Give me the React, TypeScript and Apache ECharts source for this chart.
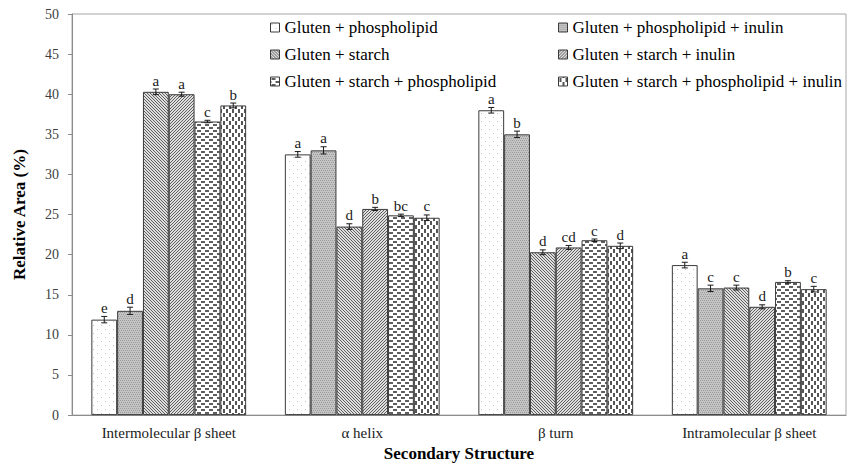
import React, { useEffect, useRef } from "react";
import * as echarts from "echarts";

const categories = [
  "Intermolecular β sheet",
  "α helix",
  "β turn",
  "Intramolecular β sheet",
];

const seriesNames = [
  "Gluten + phospholipid",
  "Gluten + phospholipid + inulin",
  "Gluten + starch",
  "Gluten + starch + inulin",
  "Gluten + starch + phospholipid",
  "Gluten + starch + phospholipid + inulin",
];

// Relative area (%) per series, one value per category
const glutenPhospholipid = [11.9, 32.5, 38.0, 18.7];
const glutenPhospholipidInulin = [13.0, 33.0, 35.0, 15.8];
const glutenStarch = [40.3, 23.5, 20.3, 15.9];
const glutenStarchInulin = [40.0, 25.7, 20.9, 13.5];
const glutenStarchPhospholipid = [36.6, 24.9, 21.8, 16.6];
const glutenStarchPhospholipidInulin = [38.6, 24.6, 21.1, 15.7];

// Standard deviations
const sdGlutenPhospholipid = [0.4, 0.35, 0.35, 0.35];
const sdGlutenPhospholipidInulin = [0.45, 0.45, 0.4, 0.4];
const sdGlutenStarch = [0.35, 0.35, 0.3, 0.3];
const sdGlutenStarchInulin = [0.25, 0.2, 0.25, 0.25];
const sdGlutenStarchPhospholipid = [0.15, 0.15, 0.15, 0.15];
const sdGlutenStarchPhospholipidInulin = [0.3, 0.35, 0.35, 0.35];

// Significance letters
const lettersGlutenPhospholipid = ["e", "a", "a", "a"];
const lettersGlutenPhospholipidInulin = ["d", "a", "b", "c"];
const lettersGlutenStarch = ["a", "d", "d", "c"];
const lettersGlutenStarchInulin = ["a", "b", "cd", "d"];
const lettersGlutenStarchPhospholipid = ["c", "bc", "c", "b"];
const lettersGlutenStarchPhospholipidInulin = ["b", "c", "d", "c"];

const values = [
  glutenPhospholipid,
  glutenPhospholipidInulin,
  glutenStarch,
  glutenStarchInulin,
  glutenStarchPhospholipid,
  glutenStarchPhospholipidInulin,
];
const errors = [
  sdGlutenPhospholipid,
  sdGlutenPhospholipidInulin,
  sdGlutenStarch,
  sdGlutenStarchInulin,
  sdGlutenStarchPhospholipid,
  sdGlutenStarchPhospholipidInulin,
];
const letters = [
  lettersGlutenPhospholipid,
  lettersGlutenPhospholipidInulin,
  lettersGlutenStarch,
  lettersGlutenStarchInulin,
  lettersGlutenStarchPhospholipid,
  lettersGlutenStarchPhospholipidInulin,
];

const FONT = "Liberation Serif";

function tile(w: number, h: number, bg: string, draw: (c: CanvasRenderingContext2D) => void) {
  const cv = document.createElement("canvas");
  cv.width = w;
  cv.height = h;
  const ctx = cv.getContext("2d")!;
  ctx.fillStyle = bg;
  ctx.fillRect(0, 0, w, h);
  draw(ctx);
  return cv;
}

// Monochrome fill textures, one per treatment
function makePatterns() {
  const dots = tile(8, 8, "#ffffff", (c) => {
    c.fillStyle = "#c4c4c4";
    c.fillRect(1, 1, 1, 1);
    c.fillRect(5, 5, 1, 1);
  });
  const grey = tile(4, 4, "#c4c4c4", (c) => {
    c.fillStyle = "#9c9c9c";
    c.fillRect(0, 0, 1, 1);
    c.fillRect(2, 0, 1, 1);
    c.fillRect(1, 2, 1, 1);
    c.fillRect(3, 2, 1, 1);
  });
  const back = tile(3, 3, "#dedede", (c) => {
    c.fillStyle = "#606060";
    for (let i = 0; i < 3; i++) c.fillRect(i, i, 1, 1);
  });
  const fwd = tile(3, 3, "#dedede", (c) => {
    c.fillStyle = "#606060";
    for (let i = 0; i < 3; i++) c.fillRect(2 - i, i, 1, 1);
  });
  const hdash = tile(8, 6, "#ffffff", (c) => {
    c.fillStyle = "#606060";
    c.fillRect(1, 1, 4, 2);
    c.fillRect(5, 4, 3, 2);
    c.fillRect(0, 4, 1, 2);
  });
  const vdash = tile(6, 8, "#ffffff", (c) => {
    c.fillStyle = "#555555";
    c.fillRect(1, 1, 2, 4);
    c.fillRect(4, 5, 2, 3);
    c.fillRect(4, 0, 2, 1);
  });
  return [dots, grey, back, fwd, hdash, vdash].map((image) => ({
    image,
    repeat: "repeat",
  }));
}

export default function App() {
  const ref = useRef<HTMLDivElement>(null);

  useEffect(() => {
    if (!ref.current) return;
    const chart = echarts.init(ref.current, undefined, { renderer: "svg" });
    const patterns = makePatterns();
    const nSeries = seriesNames.length;
    const catGap = 0.2;

    const barSeries = seriesNames.map((name, i) => ({
      name,
      type: "bar",
      data: values[i],
      barGap: "0%",
      barCategoryGap: "20%",
      itemStyle: {
        color: patterns[i] as any,
        borderColor: "#3a3a3a",
        borderWidth: 1,
      },
    }));

    const errData: number[][] = [];
    for (let s = 0; s < nSeries; s++) {
      for (let c = 0; c < categories.length; c++) {
        errData.push([c, s, values[s][c], errors[s][c]]);
      }
    }

    // Error bars (± SD) and significance letters drawn over each bar
    const errSeries = {
      type: "custom",
      name: "sd",
      data: errData,
      encode: { x: 0, y: 2 },
      z: 10,
      renderItem: (params: any, api: any) => {
        const c = api.value(0);
        const s = api.value(1);
        const v = api.value(2);
        const e = api.value(3);
        const band = api.size([1, 0])[0];
        const barW = (band * (1 - catGap)) / nSeries;
        const base = api.coord([c, v]);
        const x = base[0] - (band * (1 - catGap)) / 2 + (s + 0.5) * barW;
        const yHi = api.coord([c, v + e])[1];
        const yLo = api.coord([c, v - e])[1];
        const cap = 3;
        const lineStyle = { stroke: "#1a1a1a", lineWidth: 1 };
        return {
          type: "group",
          children: [
            { type: "line", shape: { x1: x, y1: yHi, x2: x, y2: yLo }, style: lineStyle },
            { type: "line", shape: { x1: x - cap, y1: yHi, x2: x + cap, y2: yHi }, style: lineStyle },
            { type: "line", shape: { x1: x - cap, y1: yLo, x2: x + cap, y2: yLo }, style: lineStyle },
            {
              type: "text",
              x,
              y: yHi - 1,
              style: {
                text: letters[s][c],
                fill: "#1a1a1a",
                font: `15px ${FONT}`,
                align: "center",
                verticalAlign: "bottom",
              },
            },
          ],
        };
      },
    };

    const legendCommon = {
      orient: "vertical",
      icon: "rect",
      itemWidth: 9,
      itemHeight: 9,
      itemGap: 10,
      textStyle: { fontFamily: FONT, fontSize: 17, color: "#000" },
      itemStyle: { borderColor: "#3a3a3a", borderWidth: 1 },
    };

    chart.setOption({
      animation: false,
      backgroundColor: "#ffffff",
      textStyle: { fontFamily: FONT },
      legend: [
        { ...legendCommon, left: 265, top: 14, data: [seriesNames[0], seriesNames[2], seriesNames[4]] },
        { ...legendCommon, left: 553, top: 14, data: [seriesNames[1], seriesNames[3], seriesNames[5]] },
      ],
      grid: {
        left: 72,
        right: 3,
        top: 14,
        bottom: 47,
        show: true,
        borderColor: "#a6a6a6",
        borderWidth: 1,
      },
      xAxis: {
        type: "category",
        data: categories,
        name: "Secondary Structure",
        nameLocation: "middle",
        nameGap: 28,
        nameTextStyle: { fontFamily: FONT, fontSize: 17, fontWeight: "bold", color: "#000" },
        axisLine: { lineStyle: { color: "#8c8c8c" } },
        axisTick: { length: 5, lineStyle: { color: "#8c8c8c" } },
        axisLabel: { fontFamily: FONT, fontSize: 15, color: "#1a1a1a", margin: 10 },
      },
      yAxis: {
        type: "value",
        min: 0,
        max: 50,
        interval: 5,
        name: "Relative Area (%)",
        nameLocation: "middle",
        nameGap: 44,
        nameTextStyle: { fontFamily: FONT, fontSize: 17, fontWeight: "bold", color: "#000" },
        axisLine: { show: true, lineStyle: { color: "#8c8c8c" } },
        axisTick: { show: true, length: 4, lineStyle: { color: "#8c8c8c" } },
        splitLine: { show: false },
        axisLabel: { fontFamily: FONT, fontSize: 14, color: "#404040", margin: 13 },
      },
      series: [...barSeries, errSeries],
    } as any);

    return () => chart.dispose();
  }, []);

  return (
    <div
      ref={ref}
      style={{ position: "fixed", left: 0, top: 0, width: 849, height: 467 }}
    />
  );
}
